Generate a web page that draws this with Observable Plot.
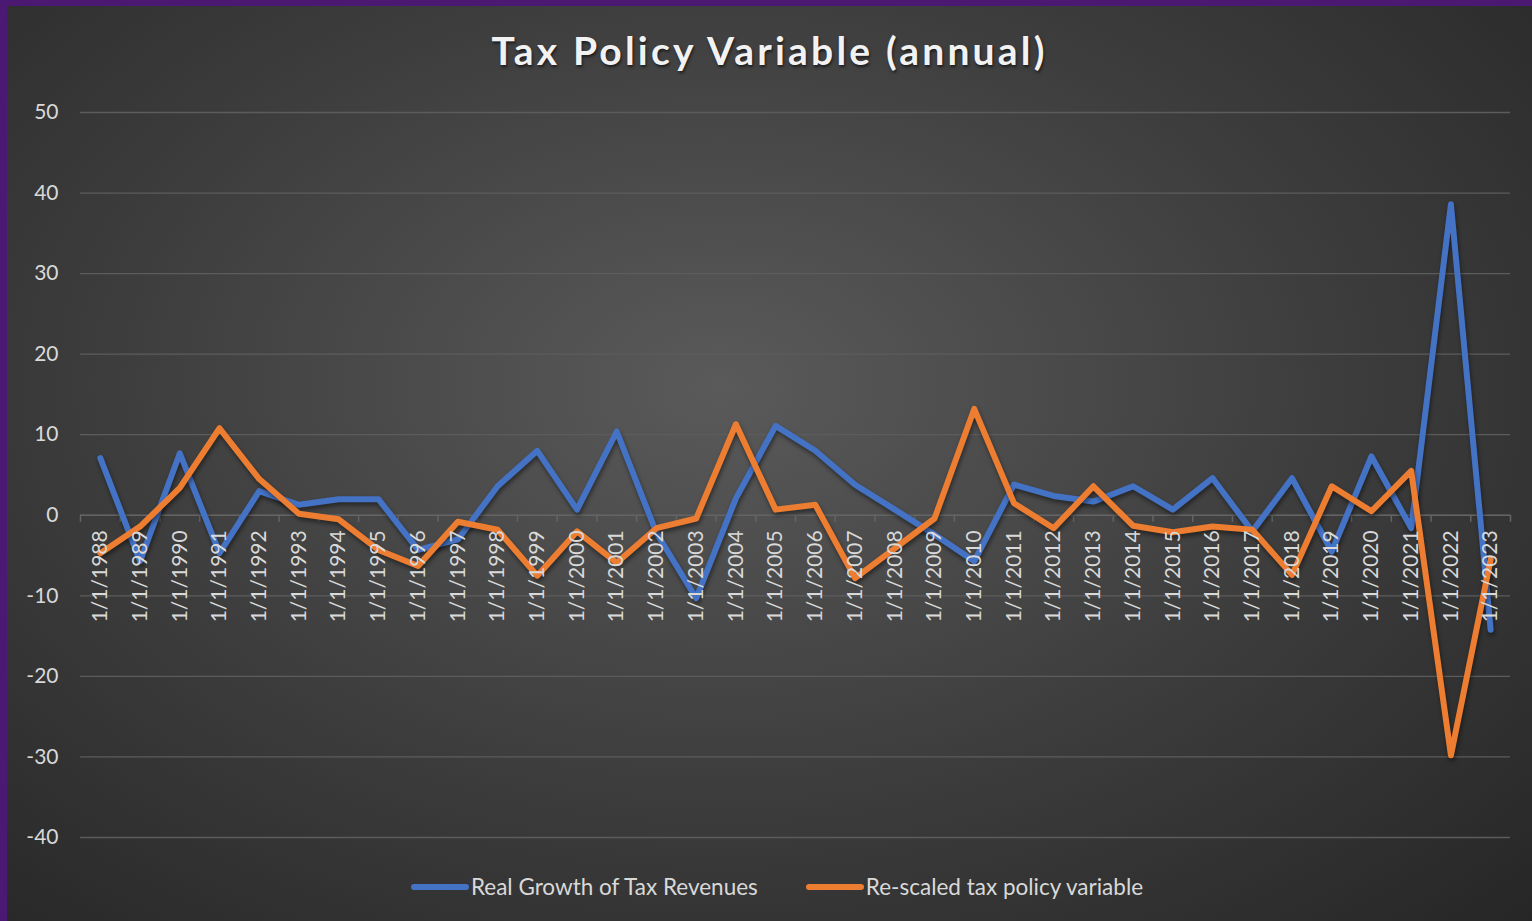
<!DOCTYPE html>
<html>
<head>
<meta charset="utf-8">
<script src="https://cdn.jsdelivr.net/npm/d3@7"></script>
<script src="https://cdn.jsdelivr.net/npm/@observablehq/plot@0.6"></script>
<style>
  html, body { margin: 0; padding: 0; background: #2a2a2a; }
  #chart {
    position: relative; width: 1532px; height: 921px; overflow: hidden;
    background: radial-gradient(ellipse farthest-corner at 47% 42%, #5a5a5a 0%, #3c3c3c 55%, #262626 100%);
    box-shadow: inset 7px 6px 0 #4b1872;
    font-family: Lato, "Noto Sans", sans-serif;
  }
  #title {
    position: absolute; left: 7px; right: 0; top: 27px; text-align: center;
    font-size: 39px; font-weight: 700; letter-spacing: 3.2px; color: #f2f2f2;
    text-shadow: 1px 2px 3px rgba(0,0,0,0.6);
  }
  #plot { position: absolute; left: 0; top: 96px; }
  #plot g[aria-label="line"] { filter: drop-shadow(1px 3px 2px rgba(0,0,0,0.45)); }
  #legend {
    position: absolute; left: 0; right: 0; top: 873px; display: flex; justify-content: center;
    gap: 48px; font-size: 22.5px; color: #d9d9d9; padding-left: 22px;
  }
  .item { display: flex; align-items: center; }
  .sw { width: 58px; height: 6px; border-radius: 3px; margin-right: 2px; }
</style>
</head>
<body>
<div id="chart">
  <div id="title">Tax Policy Variable (annual)</div>
  <div id="plot"></div>
  <div id="legend"></div>
</div>
<script>
const years = ["1/1/1988","1/1/1989","1/1/1990","1/1/1991","1/1/1992","1/1/1993","1/1/1994","1/1/1995","1/1/1996","1/1/1997","1/1/1998","1/1/1999","1/1/2000","1/1/2001","1/1/2002","1/1/2003","1/1/2004","1/1/2005","1/1/2006","1/1/2007","1/1/2008","1/1/2009","1/1/2010","1/1/2011","1/1/2012","1/1/2013","1/1/2014","1/1/2015","1/1/2016","1/1/2017","1/1/2018","1/1/2019","1/1/2020","1/1/2021","1/1/2022","1/1/2023"];
const realGrowth = [7.1,-5.7,7.7,-4.7,3.0,1.3,2.0,2.0,-4.3,-3.0,3.6,8.0,0.7,10.4,-2.2,-10.3,2.1,11.1,8.0,3.8,0.7,-2.4,-5.7,3.8,2.4,1.7,3.6,0.7,4.6,-2.0,4.6,-4.5,7.3,-1.6,38.6,-14.2];
const taxPolicy = [-4.7,-1.4,3.4,10.8,4.5,0.2,-0.5,-4.3,-6.3,-0.8,-1.8,-7.5,-2.0,-5.9,-1.6,-0.4,11.3,0.7,1.3,-7.8,-4.1,-0.4,13.2,1.5,-1.6,3.6,-1.3,-2.1,-1.4,-1.8,-7.4,3.6,0.5,5.5,-29.8,-5.5];
const yTicks = [-40,-30,-20,-10,0,10,20,30,40,50];
const seriesNames = ["Real Growth of Tax Revenues", "Re-scaled tax policy variable"];
const seriesColors = ["#4472C4", "#ED7D31"];

const rows = years.map((label, i) => ({i, label, growth: realGrowth[i], policy: taxPolicy[i]}));
const boundaries = d3.range(years.length + 1).map(k => k - 0.5);

const chart = Plot.plot({
  width: 1532,
  height: 761,
  marginTop: 16,
  marginBottom: 20,
  marginLeft: 80,
  marginRight: 22,
  style: {background: "transparent", color: "#d9d9d9", fontFamily: "Lato, 'Noto Sans', sans-serif", fontSize: "21px", overflow: "visible"},
  x: {domain: [-0.5, years.length - 0.5], axis: null},
  y: {domain: [-40, 50], ticks: yTicks, tickSize: 0, tickPadding: 22, label: null, tickFormat: d => String(d)},
  marks: [
    Plot.ruleY(yTicks, {stroke: "#5c5c5c", strokeWidth: 1.3}),
    Plot.ruleY([0], {stroke: "#646464", strokeWidth: 1.5}),
    Plot.ruleX(boundaries, {x: d => d, y1: () => 0, y2: () => 0, insetBottom: -7, stroke: "#646464", strokeWidth: 1.5}),
    Plot.line(rows, {x: "i", y: "growth", stroke: seriesColors[0], strokeWidth: 6, strokeLinejoin: "round", strokeLinecap: "round"}),
    Plot.line(rows, {x: "i", y: "policy", stroke: seriesColors[1], strokeWidth: 6, strokeLinejoin: "round", strokeLinecap: "round"}),
    Plot.text(rows, {x: "i", y: () => 0, text: "label", rotate: -90, textAnchor: "end", dy: 15, fill: "#d9d9d9", fontSize: 21})
  ]
});
document.getElementById("plot").appendChild(chart);

const legend = document.getElementById("legend");
seriesNames.forEach((name, k) => {
  const item = document.createElement("div");
  item.className = "item";
  const sw = document.createElement("span");
  sw.className = "sw";
  sw.style.background = seriesColors[k];
  const t = document.createElement("span");
  t.textContent = name;
  item.appendChild(sw); item.appendChild(t);
  legend.appendChild(item);
});
</script>
</body>
</html>
